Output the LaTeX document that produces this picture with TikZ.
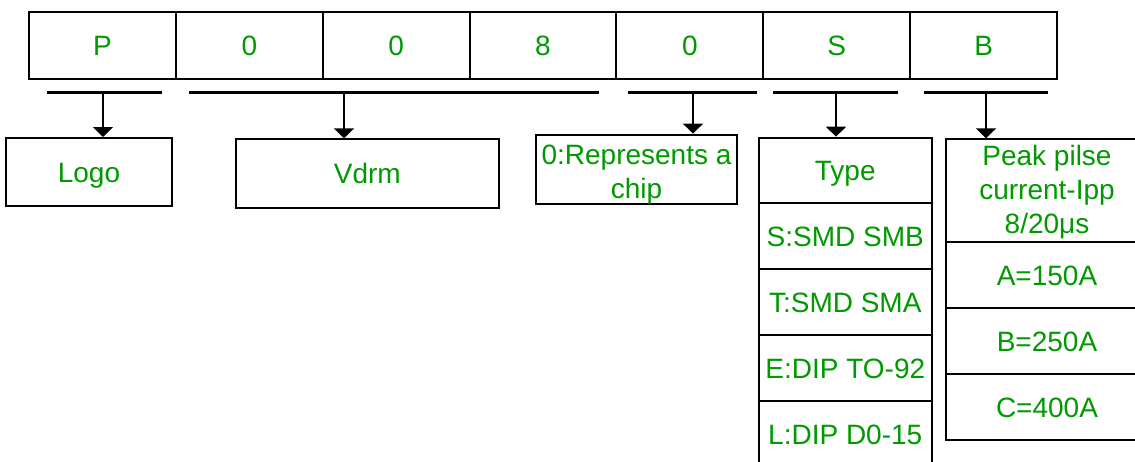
\documentclass[tikz,border=0pt]{standalone}
\usepackage{fontspec}
\setmainfont{Liberation Sans}
\usetikzlibrary{arrows.meta}
\definecolor{txtgreen}{RGB}{0,153,0}
\newcommand{\toplift}[1]{\rule{0pt}{#1}}
\begin{document}
\begin{tikzpicture}[x=1pt,y=-1pt,
  box/.style={draw=black, line width=2pt, inner sep=0pt, text=txtgreen,
    font=\fontsize{28}{34}\selectfont},
  oneline/.style={box, text height=20pt, text depth=0pt},
  multiline/.style={box, align=center},
  bracket/.style={line width=3pt},
  pointer/.style={line width=2pt, -{Triangle[width=20pt,length=10pt]}}]
\useasboundingbox (0,0) rectangle (1135,461);
\clip (0,0) rectangle (1135,461);
% top row of code letters
\foreach \t [count=\i] in {P,0,0,8,0,S,B}
  \node[oneline, minimum width=146.86pt, minimum height=67pt] (c\i) at ({29+146.86*(\i-0.5)},45.5) {\t};
% brackets under the code
\coordinate (b1w) at (47,92.5);  \coordinate (b1e) at (162,92.5);
\coordinate (b2w) at (189,92.5); \coordinate (b2e) at (599,92.5);
\coordinate (b3w) at (628,92.5); \coordinate (b3e) at (757,92.5);
\coordinate (b4w) at (773,92.5); \coordinate (b4e) at (898,92.5);
\coordinate (b5w) at (924,92.5); \coordinate (b5e) at (1048,92.5);
\foreach \i in {1,...,5} \draw[bracket] (b\i w) -- (b\i e);
% arrow starts
\coordinate (k1) at (103,92.5);
\coordinate (k2) at (344,92.5);
\coordinate (k3) at (693,92.5);
\coordinate (k4) at (836,92.5);
\coordinate (k5) at (986,92.5);
% meaning boxes
\node[oneline, minimum width=165.4pt, minimum height=68pt] (logo) at (89,172) {Logo};
\node[oneline, minimum width=263.3pt, minimum height=68.4pt] (vdrm) at (367.3,173.5) {Vdrm};
\node[multiline, minimum width=201pt, minimum height=69pt] (chip) at (636.5,169.5) {\toplift{30pt}0:Represents a\\chip};
% type column
\node[oneline, minimum width=173.5pt, minimum height=65.3pt] (type) at (845.25,170.3) {Type};
\node[oneline, minimum width=173.5pt, minimum height=66pt] (tS) at (845.25,236) {S:SMD SMB};
\node[oneline, minimum width=173.5pt, minimum height=66pt] (tT) at (845.25,302) {T:SMD SMA};
\node[oneline, minimum width=173.5pt, minimum height=66pt] (tE) at (845.25,368) {E:DIP TO-92};
\node[oneline, minimum width=173.5pt, minimum height=66pt] (tL) at (845.25,434) {L:DIP D0-15};
% peak pulse column
\node[multiline, minimum width=202pt, minimum height=102.7pt] (peak) at (1047,190.65) {\toplift{24pt}Peak pilse\\current-Ipp\\8/20μs};
\node[oneline, minimum width=202pt, minimum height=66pt] (pA) at (1047,275) {A=150A};
\node[oneline, minimum width=202pt, minimum height=66pt] (pB) at (1047,341) {B=250A};
\node[oneline, minimum width=202pt, minimum height=66pt] (pC) at (1047,407) {C=400A};
% arrows
\draw[pointer] (k1) -- (k1 |- logo.north);
\draw[pointer] (k2) -- (k2 |- vdrm.north);
\draw[pointer] (k3) -- (k3 |- chip.north);
\draw[pointer] (k4) -- (k4 |- type.north);
\draw[pointer] (k5) -- (k5 |- peak.north);
\end{tikzpicture}
\end{document}
